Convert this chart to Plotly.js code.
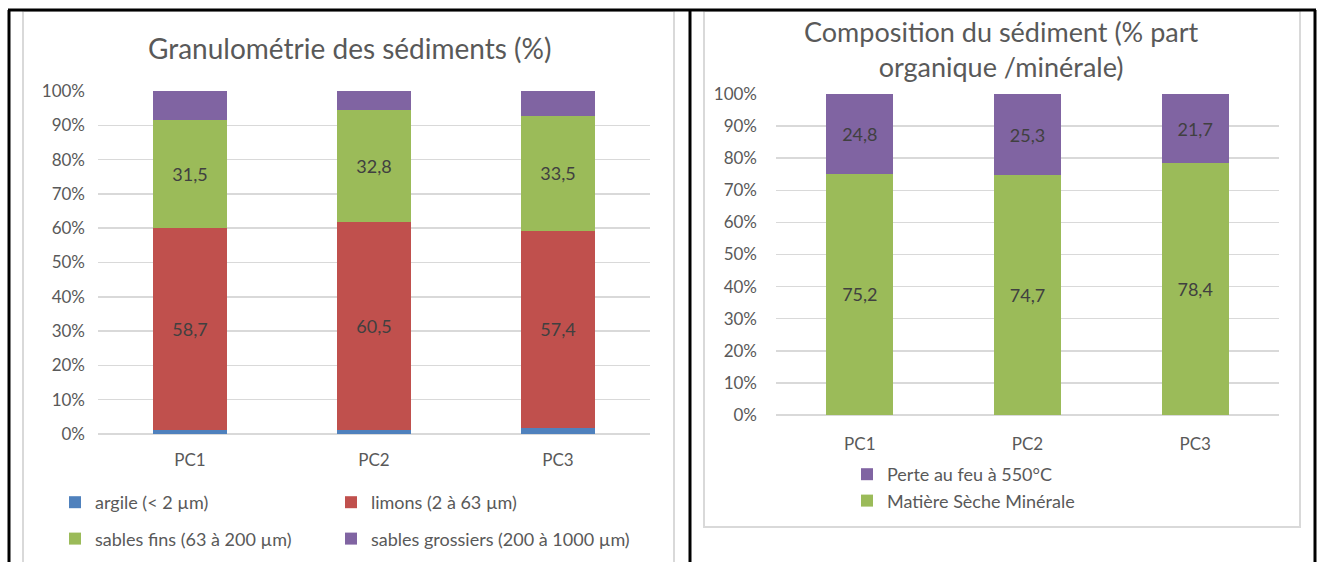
<!DOCTYPE html>
<html><head><meta charset="utf-8">
<script src="https://cdn.plot.ly/plotly-3.0.1.min.js"></script>
<style>html,body{margin:0;padding:0;background:#fff;} #chart{width:1320px;height:562px;}</style>
</head><body><div id="chart"></div>
<script>
// ---- data ----
const stations = ['PC1', 'PC2', 'PC3'];
const argile = [1.3, 1.2, 1.8];
const limons = [58.7, 60.5, 57.4];
const sablesFins = [31.5, 32.8, 33.5];
const sablesGrossiers = [8.5, 5.5, 7.3];
const perteAuFeu = [24.8, 25.3, 21.7];
const matiereMinerale = [75.2, 74.7, 78.4];
const seriesNamesLeft = ['argile (< 2 µm)', 'limons (2 à 63 µm)', 'sables fins (63 à 200 µm)', 'sables grossiers (200 à 1000 µm)'];
const seriesNamesRight = ['Perte au feu à 550°C', 'Matière Sèche Minérale'];
const titleLeft = 'Granulométrie des sédiments (%)';
const titleRight = 'Composition du sédiment (% part<br>organique /minérale)';

// ---- style ----
const W = 1320, H = 562;
const FONT = 'Lato, "Open Sans", sans-serif';
const GREY = '#595959';
const C = {blue: '#4F81BD', red: '#C0504D', green: '#9BBB59', purple: '#8064A2'};
const px = v => v / W, py = v => 1 - v / H;
const lbl = arr => arr.map(v => v.toFixed(1).replace('.', ','));

function bar(x, y, name, color, xa, ya, legend, group, withText) {
  const t = {
    type: 'bar', x: x, y: y, name: name, xaxis: xa, yaxis: ya,
    marker: {color: color}, legend: legend, legendgroup: group,
    hoverinfo: 'skip'
  };
  if (withText) {
    t.text = lbl(y); t.textposition = 'inside'; t.insidetextanchor = 'middle';
    t.textangle = 0; t.textfont = {family: FONT, size: 18, color: '#404040'};
    t.constraintext = 'none';
  } else { t.textposition = 'none'; }
  return t;
}

const traces = [
  bar(stations, argile, seriesNamesLeft[0], C.blue, 'x', 'y', 'legend', 'a', false),
  bar(stations, limons, seriesNamesLeft[1], C.red, 'x', 'y', 'legend2', 'b', true),
  bar(stations, sablesFins, seriesNamesLeft[2], C.green, 'x', 'y', 'legend', 'c', true),
  bar(stations, sablesGrossiers, seriesNamesLeft[3], C.purple, 'x', 'y', 'legend2', 'd', false),
  bar(stations, matiereMinerale, seriesNamesRight[1], C.green, 'x2', 'y2', 'legend3', 'e', true),
  bar(stations, perteAuFeu, seriesNamesRight[0], C.purple, 'x2', 'y2', 'legend3', 'f', true)
];

const yax = (dom, standoff) => ({
  domain: dom, range: [0, 100], dtick: 10, ticksuffix: '%', fixedrange: true,
  showgrid: true, gridcolor: '#D9D9D9', gridwidth: 1.5,
  zeroline: true, zerolinecolor: '#D9D9D9', zerolinewidth: 1.5, showline: false,
  ticks: '', ticklabelstandoff: standoff,
  tickfont: {family: FONT, size: 17, color: GREY}
});
const xax = (dom, anchor, standoff) => ({
  domain: dom, anchor: anchor, showgrid: false, zeroline: false, showline: false,
  ticks: '', fixedrange: true, ticklabelstandoff: standoff,
  tickfont: {family: FONT, size: 17, color: GREY}
});
const legendFont = {family: FONT, size: 18, color: GREY};

const line = (x0, y0, x1, y1, color, w) => ({
  type: 'line', xref: 'paper', yref: 'paper',
  x0: px(x0), y0: py(y0), x1: px(x1), y1: py(y1),
  line: {color: color, width: w}
});

const layout = {
  width: W, height: H, margin: {l: 0, r: 0, t: 0, b: 0, autoexpand: false},
  paper_bgcolor: '#ffffff', plot_bgcolor: '#ffffff',
  barmode: 'stack', bargap: 0.6, hovermode: false,
  font: {family: FONT, color: GREY},
  xaxis: xax([px(98), px(650)], 'y', 14),
  yaxis: yax([py(434), py(91)], 12),
  xaxis2: xax([px(776), px(1279)], 'y2', 17),
  yaxis2: Object.assign(yax([py(415), py(94)], 18), {anchor: 'x2'}),
  legend: {x: px(55), y: py(484), xanchor: 'left', yanchor: 'top',
    orientation: 'v', traceorder: 'grouped', tracegroupgap: 10, font: legendFont, bgcolor: 'rgba(0,0,0,0)'},
  legend2: {x: px(331), y: py(484), xanchor: 'left', yanchor: 'top',
    orientation: 'v', traceorder: 'grouped', tracegroupgap: 10, font: legendFont, bgcolor: 'rgba(0,0,0,0)'},
  legend3: {x: px(847), y: py(456), xanchor: 'left', yanchor: 'top',
    orientation: 'v', traceorder: 'reversed', font: legendFont, bgcolor: 'rgba(0,0,0,0)'},
  annotations: [
    {text: titleLeft, xref: 'paper', yref: 'paper', x: px(349), y: py(48), xanchor: 'center', yanchor: 'middle',
     showarrow: false, font: {family: FONT, size: 28, color: GREY}},
    {text: titleRight, xref: 'paper', yref: 'paper', x: px(1002), y: py(49), xanchor: 'center', yanchor: 'middle',
     showarrow: false, font: {family: FONT, size: 27, color: GREY}}
  ],
  shapes: [
    {type: 'rect', xref: 'paper', yref: 'paper', x0: px(23), x1: px(674), y0: py(11), y1: py(600),
     line: {color: '#D9D9D9', width: 2}},
    {type: 'rect', xref: 'paper', yref: 'paper', x0: px(704), x1: px(1300), y0: py(11), y1: py(527),
     line: {color: '#D9D9D9', width: 2}},
    line(8, 10, 1316, 10, '#000', 3),
    line(9, 10, 9, 600, '#000', 3),
    line(690, 10, 690, 600, '#000', 3),
    line(1315, 10, 1315, 600, '#000', 3)
  ]
};

Plotly.newPlot('chart', traces, layout, {displayModeBar: false, staticPlot: true});
</script>
</body></html>
